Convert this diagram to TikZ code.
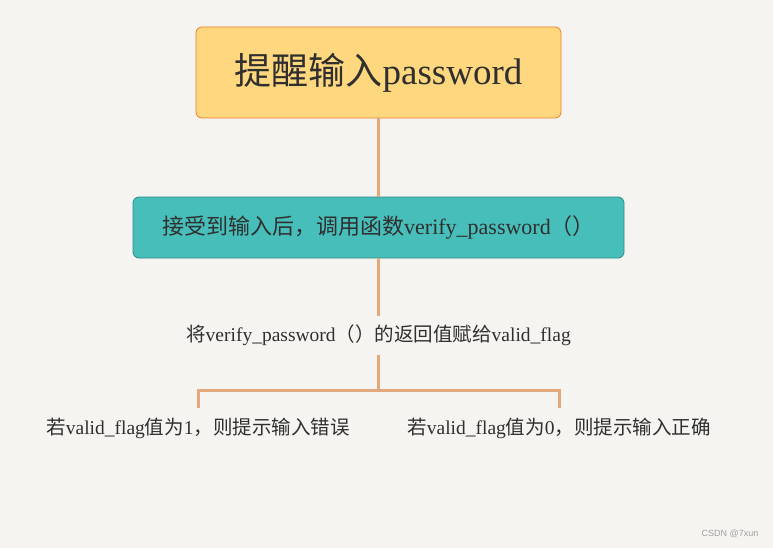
\documentclass[tikz,border=0pt]{standalone}
\usepackage{fontspec}
\setmainfont{Liberation Serif}
\newfontfamily\cjk{Noto Sans CJK SC}
\newfontfamily\wmfont{Liberation Sans}
\usetikzlibrary{positioning}
\definecolor{bgcol}{HTML}{F5F4F0}
\definecolor{linkcol}{HTML}{E3A97D}
\definecolor{inputfill}{HTML}{FFD77E}
\definecolor{inputdraw}{HTML}{E8802C}
\definecolor{callfill}{HTML}{48BEBA}
\definecolor{calldraw}{HTML}{2A8C88}
\definecolor{txtcol}{HTML}{2F2F2F}
\begin{document}
\begin{tikzpicture}[x=1pt, y=-1pt,
  link/.style={linkcol, line width=3pt},
  inputbox/.style={draw=inputdraw, fill=inputfill, rounded corners=6pt, line width=0.8pt, minimum width=365pt, minimum height=91pt, text=txtcol},
  callbox/.style={draw=calldraw, fill=callfill, rounded corners=6pt, line width=0.8pt, minimum width=491pt, minimum height=61pt, text=txtcol},
  plain/.style={inner sep=0pt, minimum height=39pt, text=txtcol, font=\fontsize{19.5}{22}\selectfont}]
\fill[bgcol] (0,0) rectangle (773,548);
\node[inputbox, font=\fontsize{37}{40}\selectfont] (input) at (378.5,72.5) {{\cjk 提醒输入}password};
\node[callbox, font=\fontsize{22}{25}\selectfont] (call) at (378.5,227.5) {{\cjk 接受到输入后，调用函数}verify\_password{\cjk （）}};
\node[plain] (ret) at (378.5,335.5) {{\cjk 将}verify\_password{\cjk （）的返回值赋给}valid\_flag};
\coordinate (split) at (378.5,390);
\node[plain] (wrong) at (198,428) {{\cjk 若}valid\_flag{\cjk 值为}1{\cjk ，则提示输入错误}};
\node[plain] (right) at (559,428) {{\cjk 若}valid\_flag{\cjk 值为}0{\cjk ，则提示输入正确}};
\draw[link] (input.south) -- (call.north);
\draw[link] (call.south) -- (ret.north);
\draw[link] (ret.south) -- (split);
\draw[link] (wrong.north) |- (split) -| (right.north);
\node[text=gray!75, font=\wmfont\fontsize{9}{10}\selectfont] (mark) at (730,534) {CSDN @7xun};
\end{tikzpicture}
\end{document}
